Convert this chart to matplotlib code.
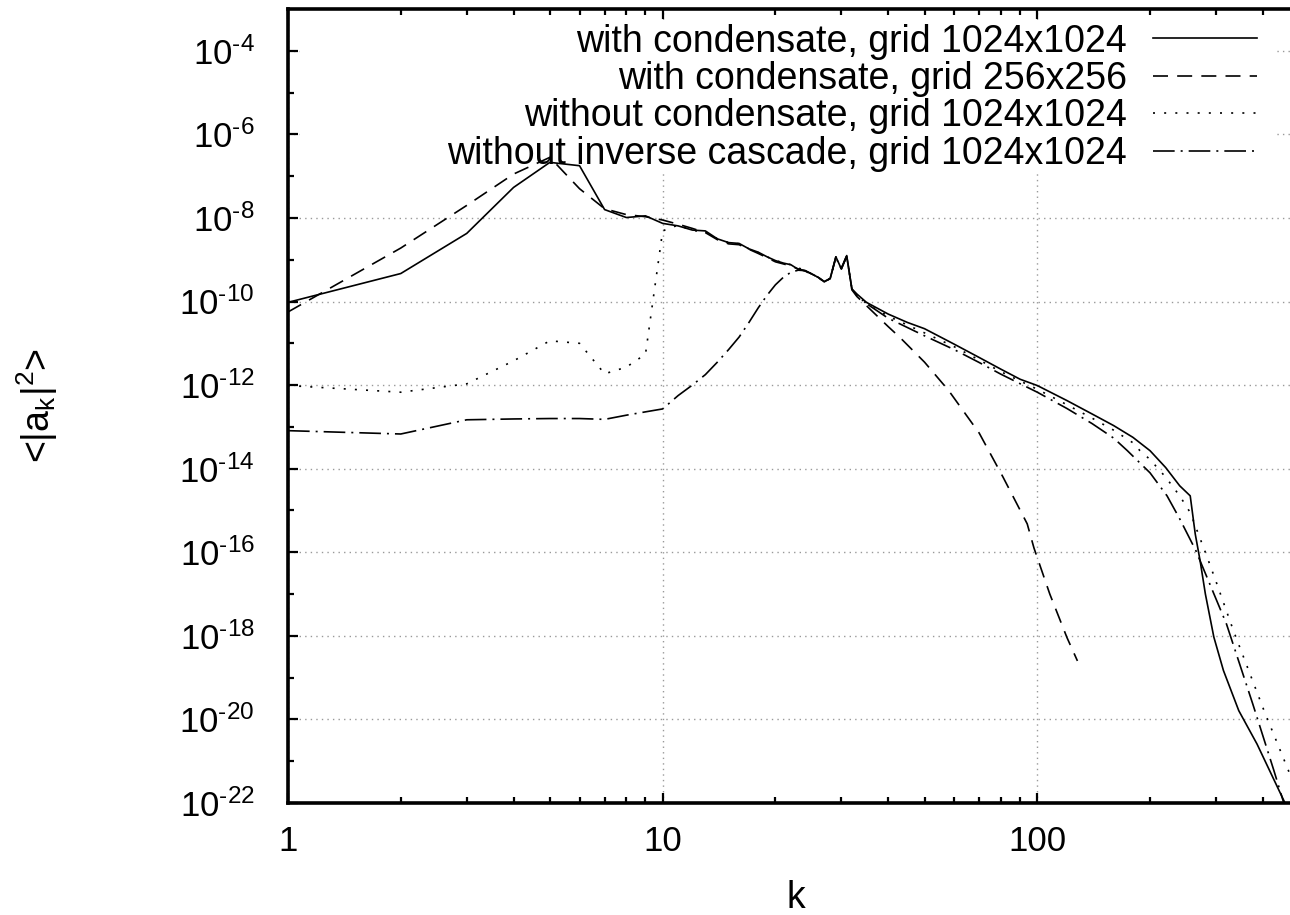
import numpy as np
import matplotlib
matplotlib.use('Agg')
import matplotlib.pyplot as plt
from matplotlib.ticker import LogLocator, FixedLocator, FuncFormatter, NullFormatter
from matplotlib.patches import Rectangle

plt.rcParams['font.family'] = ['Liberation Sans', 'DejaVu Sans']
plt.rcParams['mathtext.fontset'] = 'custom'
plt.rcParams['mathtext.rm'] = 'Liberation Sans'
plt.rcParams['mathtext.it'] = 'Liberation Sans'
plt.rcParams['axes.axisbelow'] = True

# spectra, values stored as log10 <|a_k|^2>
k_cond1024 = [1, 2, 3, 4, 5, 6, 7, 8, 9, 10, 11, 12, 13, 14, 15, 16, 17, 18, 19, 20,
              21, 22, 23, 24, 25, 26, 27, 28, 29, 30, 31, 32, 33, 35, 40, 45, 50, 60,
              70, 80, 90, 100, 120, 140, 160, 180, 200, 220, 240, 256, 264, 272, 281,
              296, 314, 345, 386, 455, 512]
log_cond1024 = [-10.02, -9.33, -8.37, -7.27, -6.67, -6.75, -7.80, -7.99, -7.95, -8.13,
                -8.19, -8.29, -8.31, -8.50, -8.59, -8.61, -8.74, -8.82, -8.93, -9.02,
                -9.08, -9.12, -9.23, -9.26, -9.34, -9.42, -9.53, -9.45, -8.93, -9.22,
                -8.90, -9.70, -9.82, -10.02, -10.30, -10.50, -10.65, -11.02, -11.34,
                -11.62, -11.86, -12.01, -12.37, -12.69, -12.97, -13.25, -13.57, -13.97,
                -14.41, -14.65, -15.56, -16.20, -17.0, -18.03, -18.83, -19.79, -20.59,
                -21.94, -22.9]

k_cond256 = [1, 2, 3, 4, 5, 6, 7, 8, 9, 10, 11, 12, 13, 14, 15, 16, 17, 18, 19, 20,
             21, 22, 23, 24, 25, 26, 27, 28, 29, 30, 31, 32, 33, 35, 40, 43, 50, 58,
             70, 81, 94, 98, 108, 120, 128]
log_cond256 = [-10.25, -8.72, -7.70, -6.95, -6.55, -7.30, -7.78, -7.92, -7.97, -8.05,
               -8.15, -8.25, -8.35, -8.52, -8.62, -8.64, -8.75, -8.85, -8.95, -9.05,
               -9.10, -9.15, -9.22, -9.27, -9.35, -9.42, -9.52, -9.45, -8.93, -9.20,
               -8.90, -9.72, -9.88, -10.10, -10.60, -10.86, -11.45, -12.13, -13.15,
               -14.20, -15.32, -15.90, -17.0, -18.04, -18.60]

k_nocond = [1, 2, 3, 4, 5, 6, 7, 8, 9, 10, 11, 12, 13, 14, 15, 16, 17, 18, 19, 20,
            22, 24, 26, 27, 28, 29, 30, 31, 32, 33, 35, 40, 50, 60, 70, 80, 100, 120,
            140, 160, 180, 188, 200, 220, 240, 256, 282, 300, 334, 403, 468, 512]
log_nocond = [-12.01, -12.17, -11.97, -11.42, -10.94, -11.0, -11.73, -11.57, -11.26,
              -8.31, -8.17, -8.30, -8.33, -8.50, -8.59, -8.62, -8.74, -8.83, -8.93,
              -9.02, -9.12, -9.26, -9.42, -9.53, -9.45, -8.95, -9.22, -8.92, -9.70,
              -9.85, -10.05, -10.35, -10.75, -11.08, -11.40, -11.68, -12.10, -12.47,
              -12.79, -13.08, -13.38, -13.57, -13.78, -14.20, -14.65, -15.05, -16.04,
              -16.70, -17.88, -19.79, -21.22, -22.2]

k_noinv = [1, 2, 3, 4, 5, 6, 7, 8, 9, 10, 11, 12, 13, 14, 15, 16, 17, 18, 19, 20,
           21, 22, 23, 24, 25, 26, 27, 28, 29, 30, 31, 32, 33, 35, 40, 50, 60, 70, 80,
           100, 120, 140, 160, 174, 200, 222, 240, 265, 320, 376, 428, 512]
log_noinv = [-13.09, -13.17, -12.83, -12.81, -12.80, -12.80, -12.82, -12.72, -12.64,
             -12.57, -12.25, -12.0, -11.75, -11.45, -11.15, -10.85, -10.5, -10.15,
             -9.85, -9.6, -9.42, -9.3, -9.25, -9.26, -9.34, -9.42, -9.53, -9.45, -8.95,
             -9.22, -8.92, -9.70, -9.85, -10.05, -10.40, -10.82, -11.15, -11.46,
             -11.74, -12.17, -12.56, -12.92, -13.27, -13.57, -14.10, -14.65, -15.2,
             -15.96, -17.72, -19.63, -21.22, -23.5]

labels = ['with condensate, grid 1024x1024',
          'with condensate, grid 256x256',
          'without condensate, grid 1024x1024',
          'without inverse cascade, grid 1024x1024']

W, H = 1290, 915
fig = plt.figure(figsize=(W / 100, H / 100), dpi=100)
# plot area runs past the right edge of the picture (x max = 512)
ax = fig.add_axes([288 / W, 1 - 803 / H, (1303 - 288) / W, (803 - 9) / H])

lw = 1.2
series = [(k_cond1024, log_cond1024, '-'),
          (k_cond256, log_cond256, (0, (9, 5.5))),
          (k_nocond, log_nocond, (0, (1.2, 5.5))),
          (k_noinv, log_noinv, (0, (13, 3.6, 1.2, 3.6)))]
for (k, lv, ls), lab in zip(series, labels):
    ax.plot(k, 10.0 ** np.array(lv), color='black', lw=lw, linestyle=ls, label=lab, zorder=2)

ax.set_xscale('log')
ax.set_yscale('log')
ax.set_xlim(1, 512)
ax.set_ylim(1e-22, 1e-3)

ax.xaxis.set_major_locator(FixedLocator([1, 10, 100]))
ax.xaxis.set_minor_locator(LogLocator(base=10, subs=np.arange(2, 10), numticks=20))
ax.xaxis.set_major_formatter(FuncFormatter(lambda v, p: '%d' % round(v)))
ax.xaxis.set_minor_formatter(NullFormatter())

ax.yaxis.set_major_locator(FixedLocator([10.0 ** e for e in range(-22, -3, 2)]))
ax.yaxis.set_minor_locator(FixedLocator([10.0 ** e for e in range(-21, -3, 2)]))
ax.yaxis.set_major_formatter(FuncFormatter(
    lambda v, p: r'10$^{\text{-%d}}$' % round(-np.log10(v))))
ax.yaxis.set_minor_formatter(NullFormatter())

ax.tick_params(which='both', direction='in', top=True, right=True, width=1.6, color='black')
ax.tick_params(which='major', length=7.5, labelsize=25, pad=24)
ax.tick_params(which='minor', length=4)
ax.tick_params(axis='x', which='major', pad=16)
for s in ax.spines.values():
    s.set_linewidth(2.6)

ax.grid(True, which='major', color='#999999', linestyle=(0, (1, 3)), linewidth=1.0)

# gnuplot key area hides the grid but not the curves
ax.add_patch(Rectangle((300 / W, 1 - 172 / H), (1275 - 300) / W, (172 - 20) / H,
                       transform=fig.transFigure, facecolor='white', edgecolor='none',
                       zorder=1))

ax.legend(loc='upper right', bbox_to_anchor=(1279 / W, 1 - 1 / H),
          bbox_transform=fig.transFigure, frameon=False, markerfirst=False,
          fontsize=27, handlelength=2.75, handletextpad=0.7, labelspacing=0.04,
          borderpad=0.1)

ax.set_xlabel('k', fontsize=27, labelpad=16)
ax.set_ylabel(r'<|a$_\mathregular{k}$|$^\mathregular{2}$>', fontsize=27, labelpad=86)

fig.savefig('out.png', dpi=100)
